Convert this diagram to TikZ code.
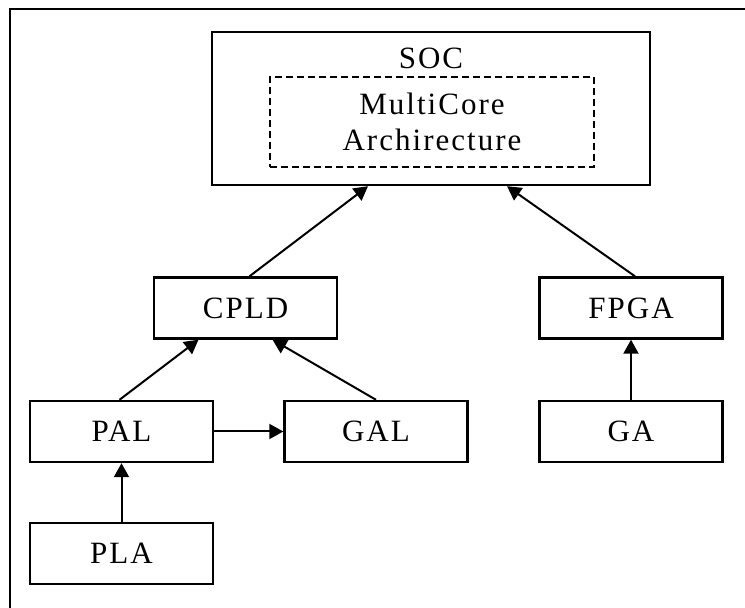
\documentclass[tikz,border=0pt]{standalone}
\usepackage{fontspec}
\setmainfont{Liberation Serif}[LetterSpace=6.5]
\usetikzlibrary{arrows.meta}
\begin{document}
\begin{tikzpicture}[x=1pt,y=1pt,
  lbl/.style={font=\fontsize{31}{36}\selectfont, inner sep=0pt},
  box/.style={draw, line width=2.4pt, minimum width=183pt, minimum height=61pt, inner sep=0pt, font=\fontsize{31}{36}\selectfont},
  conn/.style={line width=2pt, -{Triangle[length=14pt,width=15pt]}},
  ]
\useasboundingbox (0,0) rectangle (745,608);
\coordinate (fb) at (10,0);
\coordinate (fc) at (10,599);
\coordinate (fr) at (745,599);
\draw[line width=2.4pt] (fb) -- (fc) -- (fr);

\node[draw, line width=2.4pt, minimum width=438pt, minimum height=153pt, inner sep=0pt] (SOC) at (431,499.5) {};
\node[lbl, anchor=base] (soctext) at (431,539) {SOC};
\node[draw, dashed, dash pattern=on 7pt off 4pt, line width=2.2pt, minimum width=324pt, minimum height=90pt, inner sep=0pt, align=center, font=\fontsize{31}{36}\selectfont] (MC) at (432,486) {MultiCore\\Archirecture};

\node[box] (CPLD) at (245.5,300) {CPLD};
\node[box] (FPGA) at (631,300) {FPGA};
\node[box] (PAL) at (121.5,176.5) {PAL};
\node[box] (GAL) at (376,176.5) {GAL};
\node[box] (GA) at (631,176.5) {GA};
\node[box] (PLA) at (121.5,54.5) {PLA};

\draw[conn] (PLA.north) -- (PAL.south);
\draw[conn] (GA.north) -- (FPGA.south);
\draw[conn] (PAL.east) -- (GAL.west);
\draw[conn] ([xshift=-2pt]PAL.north) -- ([xshift=-47pt]CPLD.south);
\draw[conn] (GAL.north) -- ([xshift=27pt]CPLD.south);
\draw[conn] ([xshift=4pt]CPLD.north) -- ([xshift=-63pt]SOC.south);
\draw[conn] ([xshift=4pt]FPGA.north) -- ([xshift=76pt]SOC.south);
\end{tikzpicture}
\end{document}
